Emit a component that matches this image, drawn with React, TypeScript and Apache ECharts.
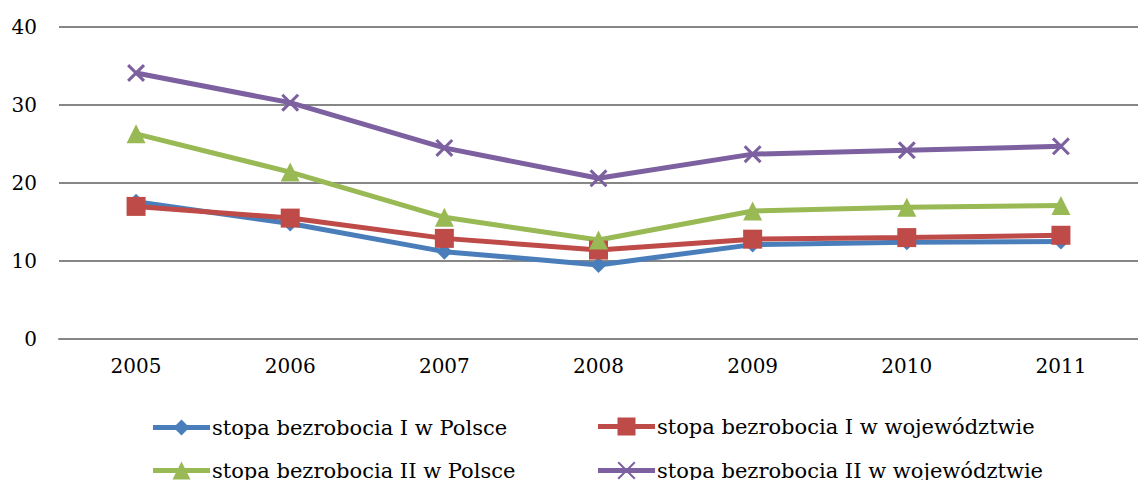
import React, { useEffect, useRef } from "react";
import * as echarts from "echarts";

const years = ["2005", "2006", "2007", "2008", "2009", "2010", "2011"];
const polskaI = [17.6, 14.8, 11.2, 9.5, 12.1, 12.4, 12.5];
const wojI = [17.0, 15.5, 12.9, 11.4, 12.8, 13.0, 13.3];
const polskaII = [26.3, 21.4, 15.6, 12.7, 16.4, 16.9, 17.1];
const wojII = [34.1, 30.3, 24.5, 20.6, 23.7, 24.2, 24.7];
const names = [
  "stopa bezrobocia I w Polsce",
  "stopa bezrobocia I w województwie",
  "stopa bezrobocia II w Polsce",
  "stopa bezrobocia II w województwie",
];

const FONT = "DejaVu Serif";
const crossPath = "path://M0,1.2L1.2,0L10,8.8L8.8,10Z M8.8,0L10,1.2L1.2,10L0,8.8Z";
const iconBlue = "path://M0,5.5L57,5.5L57,10.5L0,10.5Z M28.5,0L36.5,8L28.5,16L20.5,8Z";
const iconRed = "path://M0,6.5L57,6.5L57,11.5L0,11.5Z M19.5,0L37.5,0L37.5,18L19.5,18Z";
const iconGreen = "path://M0,6.5L57,6.5L57,11.5L0,11.5Z M28.5,0L37.5,18L19.5,18Z";
const iconPurple =
  "path://M0,6.5L57,6.5L57,11.5L0,11.5Z M19.5,1.4L20.9,0L37.5,16.6L36.1,18Z M36.1,0L37.5,1.4L20.9,18L19.5,16.6Z";

export default function App() {
  const ref = useRef<HTMLDivElement>(null);
  useEffect(() => {
    const chart = echarts.init(ref.current!, null, { renderer: "svg" });
    const mkLegend = (name: string, icon: string, h: number, left: number, top: number) => ({
      data: [{ name, icon }],
      left,
      top,
      itemWidth: 57,
      itemHeight: h,
      itemGap: 0,
      textStyle: { fontFamily: FONT, fontSize: 21, color: "#000", padding: [0, 0, 0, -3] },
    });
    const mkSeries = (name: string, data: number[], color: string, symbol: string, size: number) => ({
      type: "line",
      name,
      data,
      symbol,
      symbolSize: size,
      lineStyle: { color, width: 5 },
      itemStyle: { color },
      z: 3,
    });
    chart.setOption({
      animation: false,
      backgroundColor: "#fff",
      grid: { left: 59, top: 27, width: 1092, height: 312 },
      legend: [
        mkLegend(names[0], iconBlue, 16, 148, 412),
        mkLegend(names[1], iconRed, 18, 593, 411),
        mkLegend(names[2], iconGreen, 18, 148, 455),
        mkLegend(names[3], iconPurple, 18, 593, 455),
      ],
      xAxis: {
        type: "category",
        data: years,
        boundaryGap: true,
        axisTick: { show: false },
        axisLine: { lineStyle: { color: "#868686", width: 2 } },
        axisLabel: { fontFamily: FONT, fontSize: 20, color: "#000", margin: 17 },
      },
      yAxis: {
        type: "value",
        min: 0,
        max: 40,
        interval: 10,
        axisLine: { show: false },
        axisTick: { show: false },
        splitLine: { lineStyle: { color: "#868686", width: 2 } },
        axisLabel: { fontFamily: FONT, fontSize: 20, color: "#000", margin: 22 },
      },
      series: [
        mkSeries(names[0], polskaI, "#4a7ebb", "diamond", 16),
        mkSeries(names[1], wojI, "#be4b48", "rect", 19),
        mkSeries(names[2], polskaII, "#98b954", "triangle", 19),
        mkSeries(names[3], wojII, "#7d60a0", crossPath, 18),
      ],
    });
    return () => chart.dispose();
  }, []);
  return (
    <div
      ref={ref}
      style={{ position: "fixed", left: 0, top: 0, width: 1138, height: 480 }}
    />
  );
}
